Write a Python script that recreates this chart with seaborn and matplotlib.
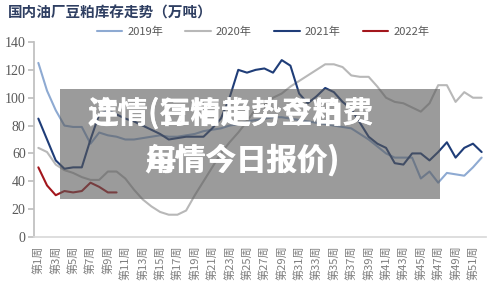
import numpy as np
import pandas as pd
import seaborn as sns
import matplotlib
matplotlib.use("Agg")
import matplotlib.pyplot as plt
from matplotlib.patches import Rectangle

weeks = list(range(1, 53))
years = ["2019年", "2020年", "2021年", "2022年"]

stock_2019 = [125, 105, 91, 80, 79, 79, 67, 75, 73, 72, 70, 70, 71, 72, 73, 72, 72, 73,
              74, 76, 77, 78, 80, 81, 83, 84, 85, 86, 86, 85, 84, 83, 82, 81, 80, 79,
              78, 74, 70, 65, 60, 57, 57, 57, 42, 47, 39, 46, 45, 44, 50, 57]
stock_2020 = [64, 61, 52, 48, 46, 43, 41, 41, 47, 47, 42, 34, 27, 22, 18, 16, 16, 19,
              30, 40, 50, 60, 68, 75, 83, 92, 95, 100, 103, 108, 112, 116, 120, 124, 124, 122,
              116, 115, 115, 108, 100, 97, 96, 93, 90, 96, 109, 109, 97, 104, 100, 100]
stock_2021 = [85, 70, 55, 49, 50, 50, 70, 88, 91, 88, 85, 83, 80, 77, 74, 70, 71, 72,
              72, 72, 78, 85, 100, 120, 118, 120, 121, 118, 127, 123, 103, 96, 101, 107, 104, 97,
              92, 82, 72, 67, 64, 53, 52, 60, 60, 55, 61, 68, 57, 64, 67, 61]
stock_2022 = [50, 37, 30, 33, 32, 33, 39, 36, 32, 32]

colors = ["#8eaad2", "#b8b8b8", "#1f3d78", "#a3161c"]

rows = []
for year, vals in zip(years, [stock_2019, stock_2020, stock_2021, stock_2022]):
    for w, v in zip(weeks, vals):
        rows.append({"week": w, "stock": v, "year": year})
df = pd.DataFrame(rows)

sns.set_theme(style="white")
plt.rcParams["font.family"] = ["Noto Sans CJK SC", "DejaVu Sans"]

fig = plt.figure(figsize=(5, 2.9), dpi=100)
ax = fig.add_axes([34 / 500, 1 - 237 / 290, 452 / 500, 195 / 290])
sns.lineplot(data=df, x="week", y="stock", hue="year", palette=colors,
             linewidth=1.5, ax=ax, legend=True)

ax.set_xlim(0.5, 52.5)
ax.set_ylim(0, 140)
ax.set_xlabel("")
ax.set_ylabel("")
ax.set_yticks(range(0, 141, 20))
ax.set_yticklabels([str(v) for v in range(0, 141, 20)], family="Liberation Serif",
                   fontsize=10, color="#595959")
xt = list(range(1, 52, 2))
ax.set_xticks(xt)
ax.set_xticklabels([f"第{w}周" for w in xt], rotation=90, fontsize=8, color="#7f7f7f")
ax.tick_params(axis="y", length=4, color="#bfbfbf", direction="out", left=True, pad=2)
ax.tick_params(axis="x", length=0, pad=6)
for s in ["top", "right"]:
    ax.spines[s].set_visible(False)
ax.spines["left"].set_color("#bfbfbf")
ax.spines["bottom"].set_color("#d9d9d9")

handles, labels = ax.get_legend_handles_labels()
ax.legend_.remove()
fig.legend(handles, labels, loc="center", bbox_to_anchor=(0.526, 1 - 32 / 290),
           ncol=4, frameon=False, fontsize=8, handlelength=2.3, columnspacing=2.0,
           handletextpad=0.45, labelcolor="#595959")

fig.text(8 / 500, 1 - 13 / 290, "国内油厂豆粕库存走势（万吨）", fontsize=10.5,
         fontweight="bold", color="#2f3f62", va="center", ha="left")

# overlay box
fig.add_artist(Rectangle((60 / 500, 1 - 199 / 290), 380 / 500, 110 / 290,
                         transform=fig.transFigure, facecolor="#595959", alpha=0.6,
                         edgecolor="none", zorder=5))
for s in ["注情(豆粕走势豆粕费", "连情(行情趋势今日费"]:
    fig.text(231 / 500, 1 - 113 / 290, s, fontsize=22, fontweight="bold",
             color="white", ha="center", va="center", zorder=6)
for s in ["用情今日报价)", "每情今日报价)"]:
    fig.text(242 / 500, 1 - 160 / 290, s, fontsize=22, fontweight="bold",
             color="white", ha="center", va="center", zorder=6)

fig.savefig("out.png", dpi=100)
